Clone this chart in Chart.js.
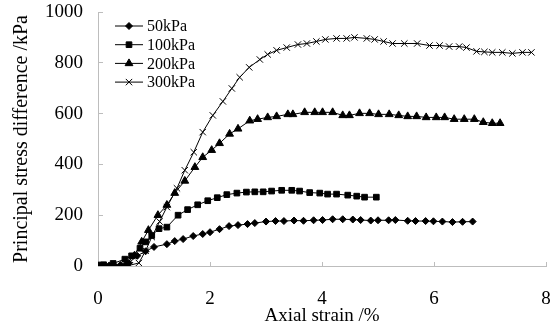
<!DOCTYPE html>
<html lang="en">
<head>
  <meta charset="UTF-8">
  <title>Principal stress difference vs axial strain</title>
  <script src="https://cdn.jsdelivr.net/npm/chart.js"></script>
  <style>
    html, body { margin: 0; padding: 0; background: #ffffff; }
    #wrap { width: 552px; height: 329px; position: relative; }
  </style>
</head>
<body>
<div id="wrap"><canvas id="stressChart"></canvas></div>

<script>
  // axis ticks
  const xTicks = [0, 2, 4, 6, 8];
  const yTicks = [0, 200, 400, 600, 800, 1000];

  const seriesNames = ['50kPa', '100kPa', '200kPa', '300kPa'];

  // 50kPa
  const strain50 = [0, 0.2, 0.4, 0.55, 0.7, 0.85, 1.0, 1.23, 1.37, 1.52, 1.7, 1.87, 2.0, 2.17, 2.34, 2.5, 2.67, 2.8, 3.0, 3.17, 3.32, 3.5, 3.67, 3.85, 4.01, 4.19, 4.37, 4.55, 4.69, 4.87, 5.0, 5.19, 5.31, 5.53, 5.67, 5.85, 5.99, 6.15, 6.33, 6.51, 6.69];
  const stress50 = [0, 2, 4, 12, 40, 58, 75, 86, 98, 106, 118, 126, 133, 145, 157, 161, 165, 169, 175, 177, 177, 179, 178, 180, 181, 184, 184, 183, 181, 179, 180, 180, 181, 178, 177, 177, 176, 175, 173, 174, 175];

  // 100kPa
  const strain100 = [0, 0.1, 0.27, 0.48, 0.6, 0.75, 0.85, 0.96, 1.09, 1.23, 1.43, 1.6, 1.78, 1.96, 2.13, 2.3, 2.48, 2.65, 2.8, 2.95, 3.1, 3.28, 3.46, 3.6, 3.78, 3.96, 4.1, 4.26, 4.46, 4.62, 4.76, 4.97];
  const stress100 = [4, 5, 10, 27, 40, 70, 95, 120, 147, 153, 200, 222, 241, 257, 269, 281, 287, 291, 292, 292, 295, 298, 298, 295, 289, 287, 283, 283, 279, 275, 271, 271];

  // 200kPa
  const strain200 = [0.3, 0.5, 0.65, 0.78, 0.9, 1.07, 1.23, 1.37, 1.55, 1.73, 1.87, 2.03, 2.17, 2.35, 2.5, 2.71, 2.85, 3.03, 3.19, 3.39, 3.48, 3.69, 3.87, 4.01, 4.19, 4.37, 4.49, 4.67, 4.85, 5.01, 5.2, 5.37, 5.53, 5.69, 5.86, 6.04, 6.19, 6.36, 6.54, 6.72, 6.88, 7.04, 7.18];
  const stress200 = [0, 8, 40, 95, 141, 200, 240, 287, 335, 389, 428, 456, 483, 520, 540, 572, 578, 585, 589, 597, 597, 605, 605, 605, 605, 593, 593, 601, 601, 597, 597, 593, 589, 589, 585, 585, 585, 578, 578, 578, 566, 562, 562];

  // 300kPa
  const strain300 = [0.45, 0.57, 0.73, 0.85, 0.96, 1.1, 1.23, 1.41, 1.55, 1.71, 1.87, 2.05, 2.23, 2.39, 2.53, 2.7, 2.89, 3.03, 3.19, 3.37, 3.57, 3.73, 3.9, 4.06, 4.26, 4.44, 4.58, 4.8, 4.94, 5.1, 5.26, 5.47, 5.7, 5.92, 6.1, 6.27, 6.45, 6.58, 6.76, 6.9, 7.04, 7.22, 7.4, 7.58, 7.74];
  const stress300 = [0, 3, 12, 60, 114, 175, 232, 306, 377, 448, 527, 593, 648, 699, 743, 782, 813, 833, 849, 860, 872, 876, 884, 892, 896, 896, 900, 896, 892, 884, 876, 876, 876, 868, 868, 864, 864, 860, 845, 843, 841, 841, 837, 841, 841];

  const serif = '"Liberation Serif", "DejaVu Serif", serif';

  function toPoints(xs, ys) {
    return xs.map((x, i) => ({ x: x, y: ys[i] }));
  }

  function makeSet(label, xs, ys, style, radius) {
    return {
      label: label,
      data: toPoints(xs, ys),
      borderColor: '#000',
      backgroundColor: '#000',
      borderWidth: 1,
      pointStyle: style,
      pointRadius: radius,
      pointBorderWidth: 1,
      pointBackgroundColor: '#000',
      pointBorderColor: '#000',
      tension: 0
    };
  }

  // legend with line + marker, inside the plot (top left)
  const insideLegend = {
    id: 'insideLegend',
    afterDraw(chart) {
      const ctx = chart.ctx;
      const left = chart.chartArea.left + 17;
      const top = chart.chartArea.top + 14;
      ctx.save();
      chart.data.datasets.forEach((ds, i) => {
        const y = top + i * 18.7;
        ctx.strokeStyle = '#000';
        ctx.lineWidth = 1;
        ctx.beginPath();
        ctx.moveTo(left, y);
        ctx.lineTo(left + 28, y);
        ctx.stroke();
        Chart.helpers.drawPoint(ctx, {
          pointStyle: ds.pointStyle,
          radius: ds.pointRadius,
          borderWidth: 1,
          rotation: 0
        }, left + 14, y);
        ctx.fillStyle = '#000';
        ctx.font = '16px ' + serif;
        ctx.textAlign = 'left';
        ctx.textBaseline = 'middle';
        ctx.fillText(ds.label, left + 32, y + 1);
      });
      ctx.restore();
    }
  };

  const ctx = document.getElementById('stressChart').getContext('2d');
  new Chart(ctx, {
    type: 'line',
    data: {
      datasets: [
        makeSet(seriesNames[0], strain50, stress50, 'rectRot', 3.5),
        makeSet(seriesNames[1], strain100, stress100, 'rect', 4),
        makeSet(seriesNames[2], strain200, stress200, 'triangle', 4.5),
        makeSet(seriesNames[3], strain300, stress300, 'crossRot', 4.5)
      ]
    },
    options: {
      responsive: true,
      maintainAspectRatio: false,
      animation: false,
      layout: { padding: { left: 0, right: 6, top: 12, bottom: 0 } },
      plugins: {
        legend: { display: false },
        tooltip: { enabled: false }
      },
      scales: {
        x: {
          type: 'linear',
          min: 0,
          max: 8,
          afterBuildTicks: s => { s.ticks = xTicks.map(v => ({ value: v })); },
          afterFit: s => { s.height = 63; s.paddingLeft = 0; s.paddingRight = 0; },
          border: { color: '#bdbdbd', width: 1 },
          grid: { drawOnChartArea: false, drawTicks: true, tickLength: -4, color: '#bdbdbd' },
          ticks: { color: '#000', padding: 26, font: { family: serif, size: 19 } },
          title: {
            display: true,
            text: 'Axial strain /%',
            color: '#000',
            font: { family: serif, size: 19 },
            padding: { top: 0, bottom: 2 }
          }
        },
        y: {
          type: 'linear',
          min: 0,
          max: 1000,
          afterBuildTicks: s => { s.ticks = yTicks.map(v => ({ value: v })); },
          afterFit: s => { s.width = 98; s.paddingTop = 0; s.paddingBottom = 0; },
          border: { color: '#bdbdbd', width: 1 },
          grid: { drawOnChartArea: false, drawTicks: true, tickLength: -5, color: '#bdbdbd' },
          ticks: {
            color: '#000',
            padding: 20,
            font: { family: serif, size: 19 },
            callback: v => String(v)
          },
          title: {
            display: true,
            text: 'Principal stress difference /kPa',
            color: '#000',
            font: { family: serif, size: 20 },
            padding: { top: 10, bottom: 0 }
          }
        }
      }
    },
    plugins: [insideLegend]
  });
</script>
</body>
</html>
